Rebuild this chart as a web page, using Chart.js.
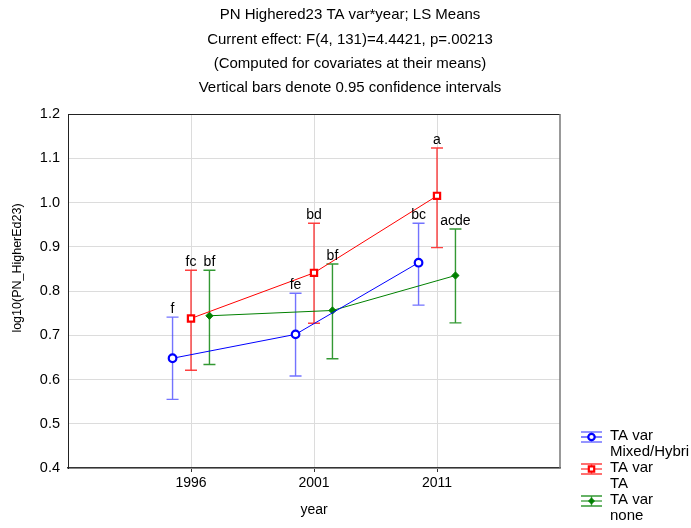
<!DOCTYPE html>
<html>
<head>
<meta charset="utf-8">
<script src="https://cdn.jsdelivr.net/npm/chart.js@4.4.1/dist/chart.umd.min.js"></script>
<style>
  html, body { margin: 0; padding: 0; background: #fff; }
  #wrap { width: 691px; height: 528px; }
</style>
</head>
<body>
<div id="wrap"><canvas id="c" width="691" height="528"></canvas></div>
<script>
// Category labels on the x axis
const years = ['1996', '2001', '2011'];

// LS means with 0.95 confidence limits, TA var = Mixed/Hybri
const mixedMean = [0.648, 0.702, 0.864];
const mixedLow  = [0.555, 0.608, 0.768];
const mixedHigh = [0.741, 0.795, 0.953];
const mixedLetters = ['f', 'fe', 'bc'];

// TA var = TA
const taMean = [0.738, 0.841, 1.015];
const taLow  = [0.621, 0.727, 0.898];
const taHigh = [0.847, 0.953, 1.123];
const taLetters = ['fc', 'bd', 'a'];

// TA var = none
const noneMean = [0.744, 0.756, 0.835];
const noneLow  = [0.634, 0.647, 0.728];
const noneHigh = [0.847, 0.861, 0.940];
const noneLetters = ['bf', 'bf', 'acde'];

// y axis range and step
const yMin = 0.4, yMax = 1.2, yStep = 0.1;

// Heading lines
const titleLines = [
  'PN Highered23 TA var*year; LS Means',
  'Current effect: F(4, 131)=4.4421, p=.00213',
  '(Computed for covariates at their means)',
  'Vertical bars denote 0.95 confidence intervals'
];
const yTitle = 'log10(PN_HigherEd23)';
const xTitle = 'year';

const FONT = '"Liberation Sans", Arial, sans-serif';
const SHIFT = 0.15; // horizontal dodge of the groups within a year

function pts(means, shift) {
  return means.map((v, i) => ({ x: i + 1 + shift, y: v }));
}

const groups = [
  { name: ['TA var', 'Mixed/Hybri'], mean: mixedMean, low: mixedLow, high: mixedHigh, letters: mixedLetters,
    shift: -SHIFT, color: '#0000ff', barColor: 'rgba(40,40,255,0.65)', style: 'circle', radius: 3.8, fill: '#ffffff', bw: 2.2 },
  { name: ['TA var', 'TA'], mean: taMean, low: taLow, high: taHigh, letters: taLetters,
    shift: 0, color: '#ff0000', barColor: 'rgba(255,0,0,0.75)', style: 'rect', radius: 4.4, fill: '#ffffff', bw: 2.2 },
  { name: ['TA var', 'none'], mean: noneMean, low: noneLow, high: noneHigh, letters: noneLetters,
    shift: SHIFT, color: '#008000', barColor: 'rgba(0,128,0,0.8)', style: 'rectRot', radius: 3.6, fill: '#008000', bw: 1 }
];

// Confidence bars with caps and the letter groupings above them
const errorBars = {
  id: 'errorBars',
  beforeDatasetsDraw(chart) {
    const { ctx, scales: { x, y } } = chart;
    ctx.save();
    groups.forEach(g => {
      g.mean.forEach((m, i) => {
        const px = x.getPixelForValue(i + 1 + g.shift);
        const top = y.getPixelForValue(g.high[i]);
        const bot = y.getPixelForValue(g.low[i]);
        ctx.strokeStyle = g.barColor;
        ctx.lineWidth = 1.4;
        ctx.beginPath();
        ctx.moveTo(px, top); ctx.lineTo(px, bot);
        ctx.moveTo(px - 6, top); ctx.lineTo(px + 6, top);
        ctx.moveTo(px - 6, bot); ctx.lineTo(px + 6, bot);
        ctx.stroke();
      });
    });
    ctx.restore();
  },
  afterDatasetsDraw(chart) {
    const { ctx, scales: { x, y } } = chart;
    ctx.save();
    ctx.fillStyle = '#000';
    ctx.font = '14px ' + FONT;
    ctx.textAlign = 'center';
    ctx.textBaseline = 'alphabetic';
    groups.forEach(g => {
      g.letters.forEach((t, i) => {
        const px = x.getPixelForValue(i + 1 + g.shift);
        const top = y.getPixelForValue(g.high[i]);
        ctx.fillText(t, px, top - 4);
      });
    });
    ctx.restore();
  }
};

// Plot frame edges, the heading and the y axis title
const decor = {
  id: 'decor',
  afterDraw(chart) {
    const { ctx, chartArea: a } = chart;
    ctx.save();
    ctx.lineWidth = 1;
    ctx.strokeStyle = '#222';
    ctx.beginPath();
    ctx.moveTo(a.left, a.top + 0.5); ctx.lineTo(a.right, a.top + 0.5);
    ctx.stroke();
    ctx.strokeStyle = '#777';
    ctx.lineWidth = 1.5;
    ctx.beginPath();
    ctx.moveTo(a.right, a.top); ctx.lineTo(a.right, a.bottom);
    ctx.stroke();

    ctx.fillStyle = '#000';
    ctx.font = '15px ' + FONT;
    ctx.textAlign = 'center';
    ctx.textBaseline = 'middle';
    titleLines.forEach((t, i) => ctx.fillText(t, 350, 15 + i * 24.4));

    ctx.font = '12.5px ' + FONT;
    ctx.translate(18, 268);
    ctx.rotate(-Math.PI / 2);
    ctx.fillText(yTitle, 0, 0);
    ctx.restore();
  }
};

// Legend in the lower right corner, two text lines per entry
const sideLegend = {
  id: 'sideLegend',
  afterDraw(chart) {
    const { ctx } = chart;
    ctx.save();
    const x0 = 581, x1 = 602, tx = 610;
    const rows = [437, 469, 501];
    groups.forEach((g, k) => {
      const cy = rows[k];
      const cx = (x0 + x1) / 2;
      ctx.strokeStyle = g.barColor;
      ctx.lineWidth = 1.4;
      ctx.beginPath();
      ctx.moveTo(x0, cy - 5); ctx.lineTo(x1, cy - 5);
      ctx.moveTo(x0, cy + 5); ctx.lineTo(x1, cy + 5);
      ctx.moveTo(cx, cy - 5); ctx.lineTo(cx, cy + 5);
      ctx.stroke();
      ctx.strokeStyle = g.color;
      ctx.lineWidth = 1;
      ctx.beginPath();
      ctx.moveTo(x0, cy); ctx.lineTo(x1, cy);
      ctx.stroke();
      ctx.fillStyle = g.fill;
      ctx.strokeStyle = g.color;
      ctx.lineWidth = g.bw;
      Chart.helpers.drawPoint(ctx, {
        pointStyle: g.style, radius: g.radius - 0.6, borderWidth: g.bw
      }, cx, cy);
      ctx.fillStyle = '#000';
      ctx.font = '15px ' + FONT;
      ctx.textAlign = 'left';
      ctx.textBaseline = 'middle';
      ctx.fillText(g.name[0], tx, cy - 1);
      ctx.fillText(g.name[1], tx, cy + 15);
    });
    ctx.restore();
  }
};

new Chart(document.getElementById('c'), {
  type: 'line',
  data: {
    datasets: groups.map(g => ({
      label: g.name.join(' '),
      data: pts(g.mean, g.shift),
      borderColor: g.color,
      borderWidth: 1,
      pointStyle: g.style,
      pointRadius: g.radius,
      pointBorderWidth: g.bw,
      pointBackgroundColor: g.fill,
      pointBorderColor: g.color,
      tension: 0,
      fill: false
    }))
  },
  options: {
    responsive: false,
    animation: false,
    layout: { padding: { left: 0, right: 131, top: 114, bottom: 0 } },
    plugins: {
      legend: { display: false },
      tooltip: { enabled: false },
      title: { display: false }
    },
    scales: {
      x: {
        type: 'linear',
        min: 0,
        max: years.length + 1,
        afterBuildTicks(s) { s.ticks = years.map((_, i) => ({ value: i + 1 })); },
        afterFit(s) { s.height = 60; },
        ticks: {
          color: '#000',
          font: { family: FONT, size: 14 },
          padding: 3,
          maxRotation: 0,
          callback: v => years[v - 1]
        },
        grid: { color: '#dcdcdc', tickColor: '#333', tickLength: 4 },
        border: { color: '#333', width: 1.5 },
        title: {
          display: true,
          text: xTitle,
          color: '#000',
          font: { family: FONT, size: 14 },
          padding: { top: 6, bottom: 9 }
        }
      },
      y: {
        min: yMin,
        max: yMax,
        afterFit(s) { s.width = 68; },
        ticks: {
          stepSize: yStep,
          color: '#000',
          font: { family: FONT, size: 14.5 },
          padding: 8,
          callback: v => Number(v).toFixed(1)
        },
        grid: { color: '#dcdcdc', drawTicks: false },
        border: { color: '#222', width: 1 }
      }
    }
  },
  plugins: [errorBars, decor, sideLegend]
});
</script>
</body>
</html>
